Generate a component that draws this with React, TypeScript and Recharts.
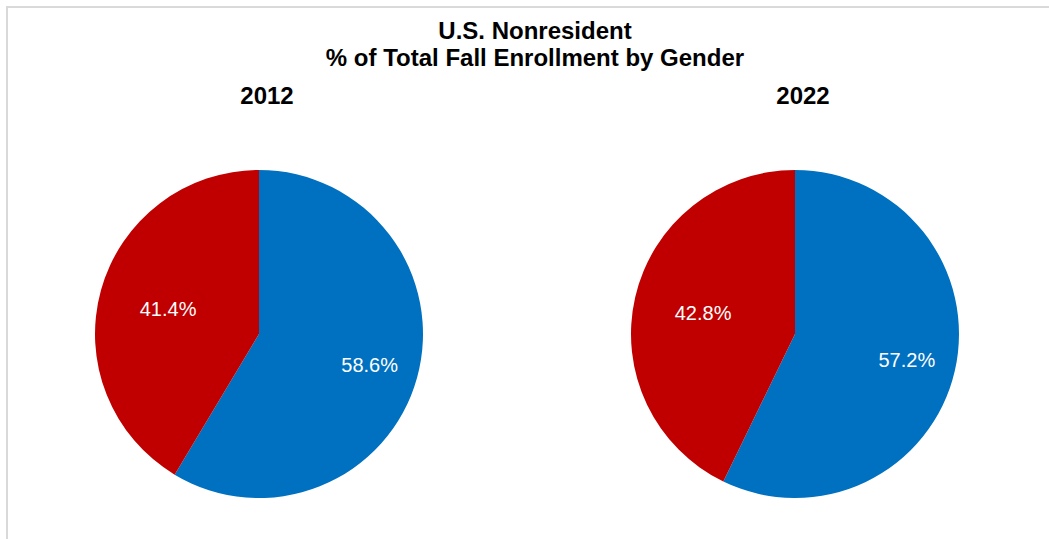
import { PieChart, Pie, Cell } from "recharts";

const genders = ["Male", "Female"];
const years = ["2012", "2022"];
const share2012 = [58.6, 41.4];
const share2022 = [57.2, 42.8];

const COLORS = ["#0070C0", "#C00000"];
// label distance from centre, as a share of the radius, per slice
const LABEL_R = [0.7, 0.575];
const FONT = "'Liberation Sans', Arial, sans-serif";
const R = 164;

const toRows = (vals: number[]) =>
  vals.map((v, i) => ({ name: genders[i], value: v }));

const RAD = Math.PI / 180;

function renderLabel(props: any) {
  const { cx, cy, midAngle, outerRadius, index, value } = props;
  const r = outerRadius * LABEL_R[index];
  const x = cx + r * Math.cos(-midAngle * RAD);
  const y = cy + r * Math.sin(-midAngle * RAD);
  return (
    <text
      x={x}
      y={y}
      fill="#fff"
      fontSize={20}
      fontFamily={FONT}
      textAnchor="middle"
      dominantBaseline="central"
    >
      {value.toFixed(1)}%
    </text>
  );
}

const titleStyle: React.CSSProperties = {
  position: "absolute",
  fontFamily: FONT,
  fontWeight: "bold",
  fontSize: 24,
  lineHeight: "26px",
  color: "#000",
  textAlign: "center",
  whiteSpace: "nowrap",
};

export default function App() {
  const pies = [
    { year: years[0], data: toRows(share2012), cx: 259 },
    { year: years[1], data: toRows(share2022), cx: 795 },
  ];
  return (
    <div style={{ position: "fixed", left: 0, top: 0, width: 1049, height: 539, background: "#fff", overflow: "hidden" }}>
      <style>{"body{margin:0;overflow:hidden}"}</style>
      <div
        style={{
          position: "absolute",
          left: 6,
          top: 6,
          width: 1200,
          height: 700,
          borderLeft: "2px solid #d9d9d9",
          borderTop: "2px solid #d9d9d9",
        }}
      />
      <div style={{ ...titleStyle, left: 235, width: 600, top: 18 }}>U.S. Nonresident</div>
      <div style={{ ...titleStyle, left: 235, width: 600, top: 44.5 }}>
        % of Total Fall Enrollment by Gender
      </div>
      <div style={{ ...titleStyle, left: 167, width: 200, top: 83 }}>{years[0]}</div>
      <div style={{ ...titleStyle, left: 703, width: 200, top: 83 }}>{years[1]}</div>
      <div style={{ position: "absolute", left: 0, top: 0 }}>
        <PieChart width={1049} height={539} margin={{ top: 0, right: 0, bottom: 0, left: 0 }}>
          {pies.map((p) => (
            <Pie
              key={p.year}
              data={p.data}
              dataKey="value"
              nameKey="name"
              cx={p.cx}
              cy={334}
              outerRadius={R}
              startAngle={90}
              endAngle={-270}
              stroke="none"
              labelLine={false}
              label={renderLabel}
              isAnimationActive={false}
            >
              {p.data.map((d, i) => (
                <Cell key={d.name} fill={COLORS[i]} />
              ))}
            </Pie>
          ))}
        </PieChart>
      </div>
    </div>
  );
}
